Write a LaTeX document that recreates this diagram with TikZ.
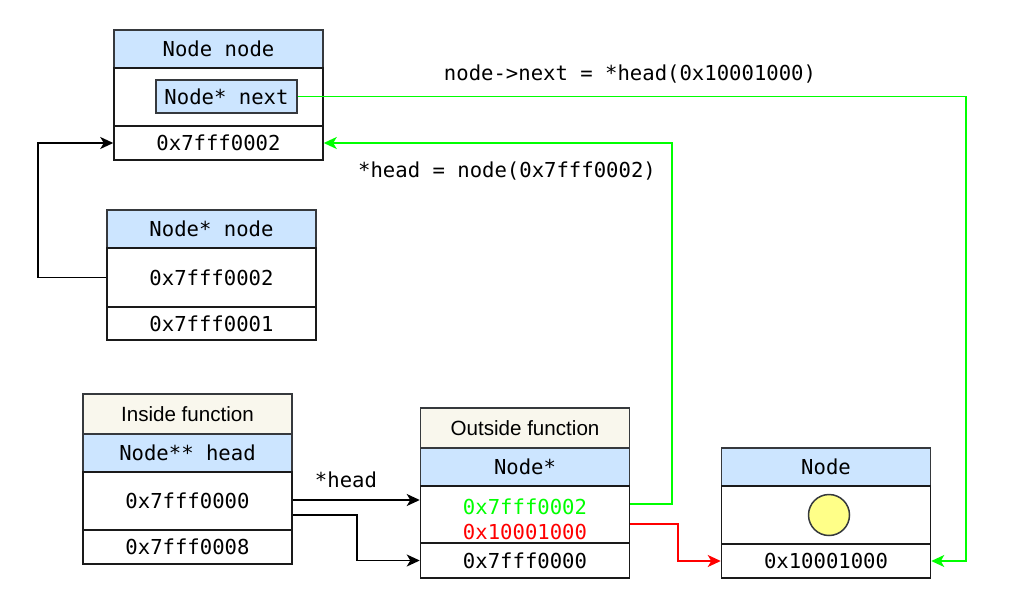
\documentclass[tikz,border=0pt]{standalone}
\usepackage{fontspec}
\setmainfont{Liberation Sans}
\setmonofont{DejaVu Sans Mono}
\usepackage{xcolor}
\usepackage{tikz}
\usetikzlibrary{arrows.meta,positioning,calc}

\definecolor{hdrblue}{HTML}{CCE5FF}
\definecolor{ttlbeige}{HTML}{F9F7ED}
\definecolor{boxline}{HTML}{1A1A1A}
\definecolor{hdrline}{HTML}{36393D}
\definecolor{dotyellow}{HTML}{FFFF88}
\definecolor{lgreen}{HTML}{00FF00}
\definecolor{lred}{HTML}{FF0000}

\newcommand{\monofnt}{\fontsize{20.6}{24}\ttfamily}
\newcommand{\sansfnt}{\fontsize{20.6}{24}\rmfamily}

\begin{document}
\begin{tikzpicture}
  [x=1pt,y=-1pt,
   cell/.style={draw=boxline,line width=1.5pt,fill=white,minimum width=209pt,inner sep=0pt,font=\monofnt},
   hdr/.style={cell,fill=hdrblue,draw=hdrline,minimum height=38pt},
   ttl/.style={cell,fill=ttlbeige,draw=hdrline,font=\sansfnt,minimum height=40pt},
   lbl/.style={inner sep=0pt,font=\monofnt},
   ptr/.style={line width=1.6pt,-{Stealth[length=13pt,width=12pt,inset=3.5pt]}}]
  \useasboundingbox (0,0) rectangle (1027,597);

  % Node node
  \node[hdr] (nnHead) at (218.5,49) {\raisebox{-1pt}{Node node}};
  \node[cell,minimum height=58pt] (nnMid) at (218.5,97) {};
  \node[cell,minimum height=34pt] (nnBot) at (218.5,143) {\raisebox{-1pt}{0x7fff0002}};
  \node[hdr,minimum width=141pt,minimum height=33pt] (nnNext) at (226.5,96.5) {\raisebox{-1pt}{Node* next}};

  % Node* node
  \node[hdr] (pnHead) at (211.5,229) {\raisebox{-1pt}{Node* node}};
  \node[cell,minimum height=59pt] (pnMid) at (211.5,277.5) {\raisebox{-1pt}{0x7fff0002}};
  \node[cell,minimum height=33pt] (pnBot) at (211.5,323.5) {\raisebox{-1pt}{0x7fff0001}};

  % inside function
  \node[ttl] (inTitle) at (187.5,414) {Inside function};
  \node[hdr] (inHead) at (187.5,453) {\raisebox{-1pt}{Node** head}};
  \node[cell,minimum height=58pt] (inMid) at (187.5,501) {\raisebox{-1pt}{0x7fff0000}};
  \node[cell,minimum height=34pt] (inBot) at (187.5,547) {\raisebox{-1pt}{0x7fff0008}};

  % outside function
  \node[ttl] (outTitle) at (525,428) {Outside function};
  \node[hdr] (outHead) at (525,467) {\raisebox{-1pt}{Node*}};
  \node[cell,minimum height=57pt] (outMid) at (525,514.5) {};
  \node[cell,minimum height=35pt] (outBot) at (525,560.5) {\raisebox{-1pt}{0x7fff0000}};
  \node[lbl,text=lgreen] (outGreen) at (525,507) {0x7fff0002};
  \node[lbl,text=lred] (outRed) at (525,532) {0x10001000};

  % Node
  \node[hdr] (ndHead) at (826,467) {\raisebox{-1pt}{Node}};
  \node[cell,minimum height=58pt] (ndMid) at (826,515) {};
  \node[cell,minimum height=34pt] (ndBot) at (826,561) {\raisebox{-1pt}{0x10001000}};
  \node[circle,draw=hdrline,line width=1.5pt,fill=dotyellow,minimum size=41pt,inner sep=0pt] (ndDot) at (829,515) {};

  % labels
  \node[lbl] (lblNext) at (630,74) {node->next = *head(0x10001000)};
  \node[lbl] (lblHead) at (507,171) {*head = node(0x7fff0002)};
  \node[lbl] (lblDeref) at (346,480) {*head};

  \coordinate (inTop) at ($(inMid.east)+(0,-1)$);
  \coordinate (inLow) at ($(inMid.east)+(0,14)$);
  \coordinate (outG) at (outMid.east |- 0,504);
  \coordinate (outR) at (outMid.east |- 0,524);

  \draw[ptr] (pnMid.west) -- ++(-68,0) |- (nnBot.west);
  \draw[ptr,draw=lgreen] (nnNext.east) -| ($(ndBot.east)+(35,0)$) -- (ndBot.east);
  \draw[ptr,draw=lgreen] (outG) -- ++(42,0) |- (nnBot.east);
  \draw[ptr,draw=lred] (outR) -- ++(48,0) |- (ndBot.west);
  \draw[ptr] (inTop) -- (inTop -| outMid.west);
  \draw[ptr] (inLow) -- ++(64,0) |- (outBot.west);

\end{tikzpicture}
\end{document}
